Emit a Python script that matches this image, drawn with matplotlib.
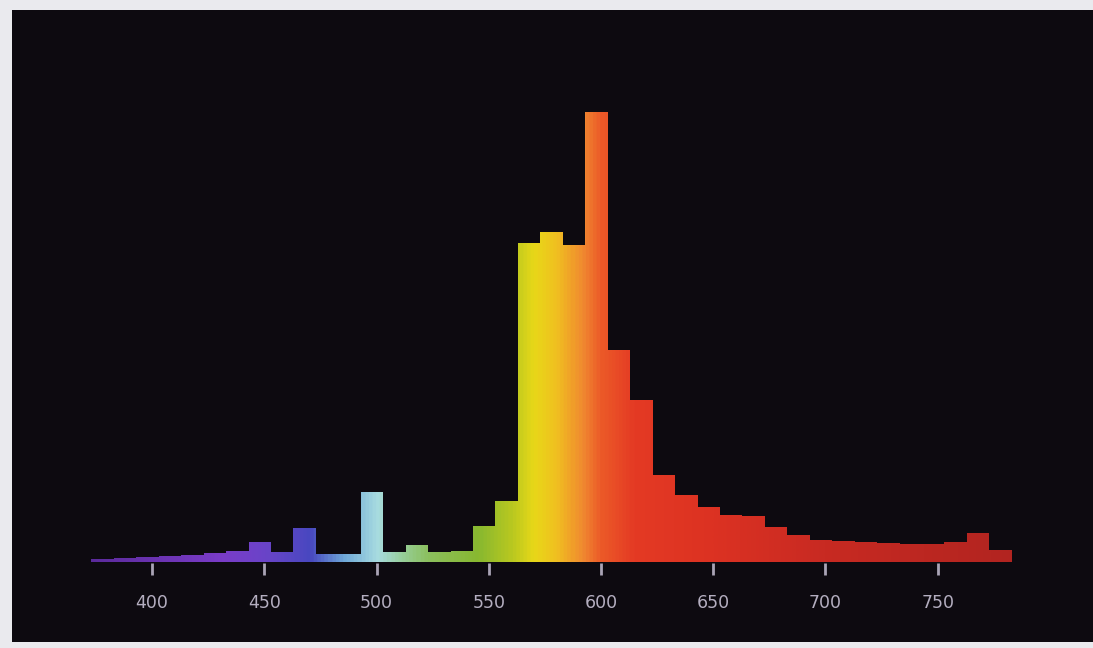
import numpy as np
import matplotlib
matplotlib.use("Agg")
import matplotlib.pyplot as plt
from matplotlib.colors import LinearSegmentedColormap

# Bin centres (nm) and relative intensity (peak = 100)
bin_centres = [378, 388, 398, 408, 418, 428, 438, 448, 458, 468, 478, 488, 498,
               508, 518, 528, 538, 548, 558, 568, 578, 588, 598, 608, 618, 628,
               638, 648, 658, 668, 678, 688, 698, 708, 718, 728, 738, 748, 758,
               768, 778]
intensity = [0.6, 0.8, 1.0, 1.3, 1.6, 2.0, 2.4, 4.4, 2.2, 7.6, 1.8, 1.8, 15.6,
             2.2, 3.8, 2.2, 2.4, 8.0, 13.6, 70.9, 73.3, 70.4, 100.0, 47.1, 36.0,
             19.3, 14.9, 12.2, 10.4, 10.2, 7.8, 6.0, 4.9, 4.7, 4.4, 4.2, 4.0,
             4.0, 4.4, 6.4, 2.7]
tick_values = [400, 450, 500, 550, 600, 650, 700, 750]
tick_labels = ["400", "450", "500", "550", "600", "650", "700", "750"]

# wavelength -> colour, as seen in the picture
spectrum_nm = [370, 430, 450, 470, 485, 500, 510, 522, 545, 560, 570, 580,
               592, 600, 615, 650, 700, 790]
spectrum_col = ["#5a2a9a", "#7a3cc8", "#6a44c8", "#4848c0", "#6ea8d8",
                "#a8dce0", "#98d0a0", "#8cc060", "#88b830", "#b8c820",
                "#e8d818", "#f0c020", "#f08830", "#ec5a28", "#e43a24",
                "#dc3222", "#c82a22", "#b02420"]

BIN_WIDTH = 10
XMIN, XMAX = 337.6, 819.2
YMIN, YMAX = -17.8, 122.7

fig = plt.figure(figsize=(10.93, 6.48), dpi=100)
fig.patch.set_facecolor("#eaeaee")
ax = fig.add_axes([12 / 1093, 6 / 648, 1081 / 1093, 632 / 648])
ax.set_facecolor("#0d0a10")
ax.set_xticks([])
ax.set_yticks([])
for sp in ax.spines.values():
    sp.set_visible(False)

# histogram outline used as the clip shape for the spectrum gradient
edges = [c - BIN_WIDTH / 2 for c in bin_centres] + [bin_centres[-1] + BIN_WIDTH / 2]
outline = ax.stairs(intensity, edges, fill=True, baseline=0,
                    facecolor="none", edgecolor="none")

span = spectrum_nm[-1] - spectrum_nm[0]
nodes = [((w - spectrum_nm[0]) / span, c) for w, c in zip(spectrum_nm, spectrum_col)]
cmap = LinearSegmentedColormap.from_list("spectrum", nodes)
grad = np.linspace(0, 1, 800).reshape(1, -1)
im = ax.imshow(grad, cmap=cmap, aspect="auto", interpolation="bilinear",
               extent=(spectrum_nm[0], spectrum_nm[-1], 0, 110), zorder=2)
im.set_clip_path(outline)
ax.set_xlim(XMIN, XMAX)
ax.set_ylim(YMIN, YMAX)

# short tick marks below the baseline
ax.vlines(tick_values, -2.8, -0.2, colors="#aaa4b6", linewidth=2, zorder=3)
for v, lab in zip(tick_values, tick_labels):
    ax.text(v, -9.2, lab, ha="center", va="center", color="#b4aec0",
            fontsize=12.5, zorder=3)

fig.savefig("out.png", dpi=100, facecolor=fig.get_facecolor())
